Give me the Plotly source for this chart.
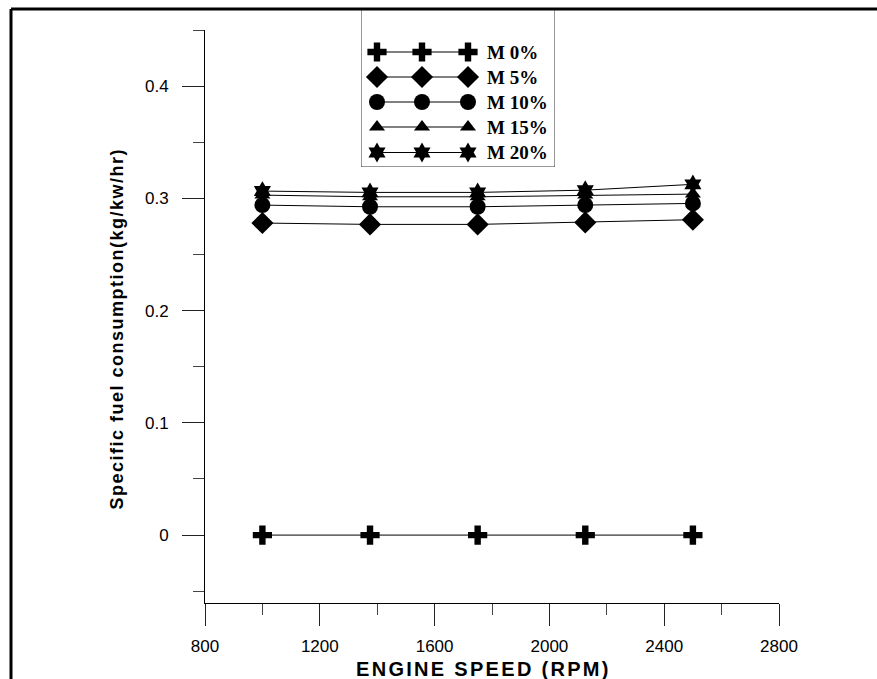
import plotly.graph_objects as go

# ---- data ----
rpm = [1000, 1375, 1750, 2125, 2500]
m0 = [0.0, 0.0, 0.0, 0.0, 0.0]
m5 = [0.278, 0.2768, 0.2768, 0.2786, 0.281]
m10 = [0.294, 0.2925, 0.2925, 0.294, 0.2955]
m15 = [0.3029, 0.3014, 0.3014, 0.3029, 0.3038]
m20 = [0.3065, 0.3053, 0.3053, 0.3073, 0.3125]
series_names = ["M 0%", "M 5%", "M 10%", "M 15%", "M 20%"]
x_ticks = [800, 1200, 1600, 2000, 2400, 2800]
y_ticks = [0, 0.1, 0.2, 0.3, 0.4]
y_ticktext = ["0", "0.1", "0.2", "0.3", "0.4"]

series = [m0, m5, m10, m15, m20]
symbols = ["cross", "diamond", "circle", "triangle-up", "hexagram"]
sizes = [16, 17, 16, 14, 15]

W, H = 877, 679
L, R, T, B = 205, W - 779, 9, H - 603
pw, ph = W - L - R, H - T - B

def px(xp):
    return (xp - L) / pw

def py(yp):
    return (H - B - yp) / ph

fig = go.Figure()
for name, vals, sym, sz in zip(series_names, series, symbols, sizes):
    fig.add_trace(go.Scatter(
        x=rpm, y=vals, mode="lines+markers", name=name,
        line=dict(color="black", width=1),
        marker=dict(symbol=sym, size=sz, color="black", line=dict(width=0)),
        showlegend=False, xaxis="x", yaxis="y"))

# custom legend drawn in an overlay axis (axis units = reference pixels)
leg_rows = [52, 77, 102, 127, 152.5]
leg_x = [377, 422, 468]
for name, sym, sz, ry in zip(series_names, symbols, sizes, leg_rows):
    fig.add_trace(go.Scatter(
        x=leg_x, y=[ry] * 3, mode="lines+markers",
        line=dict(color="black", width=1),
        marker=dict(symbol=sym, size=sz, color="black", line=dict(width=0)),
        showlegend=False, xaxis="x2", yaxis="y2", hoverinfo="skip"))

annotations = []
for name, ry in zip(series_names, leg_rows):
    annotations.append(dict(
        x=485, y=ry, xref="x2", yref="y2", text=name, showarrow=False,
        xanchor="left", yanchor="middle",
        font=dict(family="Liberation Serif", size=19, color="black", weight="bold")))

annotations.append(dict(
    x=px(116), y=py(328.5), xref="paper", yref="paper",
    text='<span style="letter-spacing:1.5px">Specific fuel consumption(kg/kw/hr)</span>',
    textangle=-90, showarrow=False, xanchor="center", yanchor="middle",
    font=dict(family="Liberation Sans", size=18, color="black", weight="bold")))
annotations.append(dict(
    x=px(483.5), y=py(669), xref="paper", yref="paper",
    text='<span style="letter-spacing:2.3px">ENGINE SPEED (RPM)</span>',
    showarrow=False, xanchor="center", yanchor="middle",
    font=dict(family="Liberation Sans", size=20, color="black", weight="bold")))

shapes = [
    # legend box
    dict(type="rect", xref="x2", yref="y2", x0=361, x1=555, y0=9, y1=167,
         line=dict(color="#333333", width=1), fillcolor="rgba(0,0,0,0)", layer="below"),
    # outer frame (top and left edges)
    dict(type="line", xref="paper", yref="paper", x0=px(11), x1=px(900),
         y0=py(9), y1=py(9), line=dict(color="black", width=3)),
    dict(type="line", xref="paper", yref="paper", x0=px(11), x1=px(11),
         y0=py(9), y1=py(700), line=dict(color="black", width=3)),
]

fig.update_layout(
    width=W, height=H,
    margin=dict(l=L, r=R, t=T, b=B, pad=0),
    paper_bgcolor="white", plot_bgcolor="white",
    font=dict(family="Liberation Sans", size=17, color="black"),
    showlegend=False,
    xaxis=dict(
        range=[800, 2800], tickvals=x_ticks, ticks="outside", ticklen=22,
        tickcolor="#222222", tickwidth=1, ticklabelstandoff=6,
        minor=dict(dtick=200, tick0=800, ticks="outside", ticklen=11,
                   tickcolor="#444444", tickwidth=1),
        showline=True, linecolor="black", linewidth=1,
        showgrid=False, zeroline=False, domain=[0, 1],
        tickfont=dict(size=17), anchor="y"),
    yaxis=dict(
        range=[-0.0605, 0.45], tickvals=y_ticks, ticktext=y_ticktext,
        ticks="outside", ticklen=22,
        tickcolor="#222222", tickwidth=1, ticklabelstandoff=10,
        minor=dict(dtick=0.05, tick0=0, ticks="outside", ticklen=11,
                   tickcolor="#444444", tickwidth=1),
        showline=True, linecolor="black", linewidth=1,
        showgrid=False, zeroline=False, domain=[0, py(30)],
        tickfont=dict(size=17), anchor="x"),
    xaxis2=dict(range=[361, 555], domain=[px(361), px(555)], visible=False,
                anchor="y2", fixedrange=True),
    yaxis2=dict(range=[167, 9], domain=[py(167), py(9)], visible=False,
                anchor="x2", fixedrange=True),
    annotations=annotations,
    shapes=shapes,
)

fig.write_html(
    "out.html",
    config={"displayModeBar": False},
    post_script="document.body.style.margin='0px';document.body.style.overflow='hidden';",
)
